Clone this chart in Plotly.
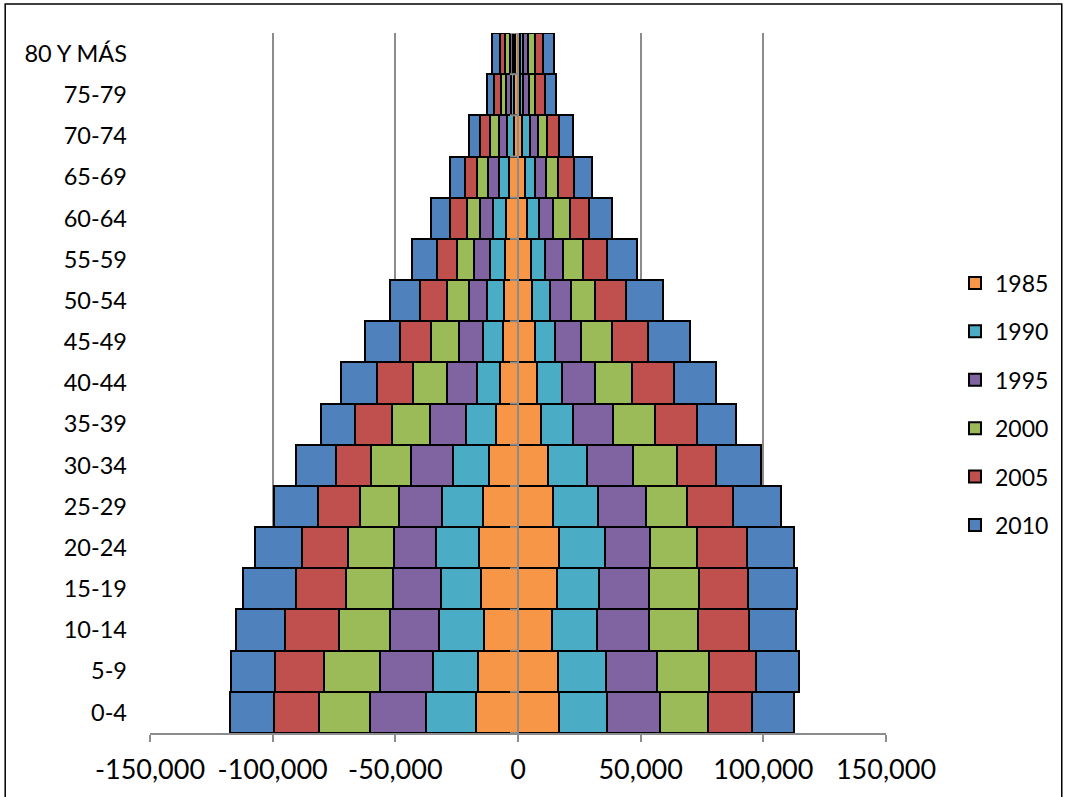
import plotly.graph_objects as go

categories = ["0-4", "5-9", "10-14", "15-19", "20-24", "25-29", "30-34", "35-39",
              "40-44", "45-49", "50-54", "55-59", "60-64", "65-69", "70-74", "75-79", "80 Y MÁS"]
years = ["1985", "1990", "1995", "2000", "2005", "2010"]
colors = ["#F79646", "#4BACC6", "#8064A2", "#9BBB59", "#C0504D", "#4F81BD"]

# left side (plotted as negative)
left_1985 = [17100, 16200, 14000, 15200, 15900, 14300, 11800, 8800, 7200, 6200, 5700, 5400, 4900, 3500, 1800, 1500, 1300]
left_1990 = [20200, 18600, 18200, 16300, 17400, 16600, 14800, 12200, 9500, 7900, 6800, 6000, 5200, 4200, 2700, 1500, 900]
left_1995 = [23100, 21400, 20100, 19400, 17200, 17800, 16900, 14700, 12400, 9800, 7500, 6400, 5300, 4600, 3300, 1700, 1100]
left_2000 = [20800, 22800, 20700, 19300, 18700, 15900, 16400, 15700, 13700, 11500, 9100, 6900, 5500, 4500, 3700, 2400, 2000]
left_2005 = [18200, 20100, 22100, 20400, 18900, 17100, 14400, 15200, 14700, 12900, 10800, 8300, 6700, 4900, 3900, 2700, 2000]
left_2010 = [18000, 18000, 20000, 21400, 19200, 17700, 16200, 13900, 14800, 14100, 12400, 10100, 7700, 6000, 4400, 3000, 3100]

# right side
right_1985 = [16700, 16300, 13700, 15900, 16700, 14300, 12200, 9300, 7900, 6900, 5700, 5100, 3500, 3000, 1800, 1000, 700]
right_1990 = [19400, 19400, 18600, 17100, 18700, 18500, 16000, 13200, 10100, 8300, 7500, 6100, 4900, 3800, 3100, 1000, 1200]
right_1995 = [21900, 20800, 20900, 20500, 18300, 19200, 18700, 16200, 13300, 10400, 8300, 7200, 5900, 4600, 3100, 2400, 2200]
right_2000 = [19600, 21300, 20100, 20300, 19400, 17000, 17900, 17200, 15100, 12800, 9800, 7900, 6900, 5100, 3800, 2700, 2800]
right_2005 = [17800, 19400, 20800, 20100, 20200, 18600, 16100, 17100, 17200, 14700, 12600, 9800, 7600, 6300, 5000, 3800, 3400]
right_2010 = [17100, 17500, 19400, 20000, 19300, 19400, 18100, 15900, 17100, 17100, 15100, 12500, 9700, 7500, 5600, 4400, 4400]

x_tickvals = [-150000, -100000, -50000, 0, 50000, 100000, 150000]
x_ticktext = ["-150,000", "-100,000", "-50,000", "0", "50,000", "100,000", "150,000"]

lefts = [left_1985, left_1990, left_1995, left_2000, left_2005, left_2010]
rights = [right_1985, right_1990, right_1995, right_2000, right_2005, right_2010]

FONT = "Lato"
GRID = "#8C8C8C"
W, H = 1065, 797
ML, MR, MT, MB = 150, 178, 33, 64
pw, ph = W - ML - MR, H - MT - MB

ypos = list(range(len(categories)))

fig = go.Figure()
for yr, col, lv, rv in zip(years, colors, lefts, rights):
    fig.add_trace(go.Bar(y=ypos, x=[-v for v in lv], orientation="h", name=yr,
                         legendgroup=yr, showlegend=False,
                         marker=dict(color=col, line=dict(color="black", width=2))))
    fig.add_trace(go.Bar(y=ypos, x=rv, orientation="h", name=yr,
                         legendgroup=yr, showlegend=True,
                         marker=dict(color=col, line=dict(color="black", width=2))))

shapes = []
# vertical category axis at zero, on top of bars
shapes.append(dict(type="line", xref="x", yref="y", x0=0, x1=0, y0=-0.5, y1=len(categories) - 0.5,
                   line=dict(color=GRID, width=2), layer="above"))
for k in range(len(categories) + 1):
    shapes.append(dict(type="line", xref="x", yref="y", xsizemode="pixel", xanchor=0,
                       x0=-8, x1=0, y0=k - 0.5, y1=k - 0.5,
                       line=dict(color=GRID, width=2), layer="above"))
# outer chart border
shapes.append(dict(type="rect", xref="paper", yref="paper",
                   x0=(5 - ML) / pw, x1=(1063 - ML) / pw,
                   y0=(H - MB - 805) / ph, y1=(H - MB - 4) / ph,
                   line=dict(color="black", width=1.5), fillcolor="rgba(0,0,0,0)", layer="below"))

fig.update_layout(
    width=W, height=H,
    margin=dict(l=ML, r=MR, t=MT, b=MB),
    paper_bgcolor="white", plot_bgcolor="white",
    barmode="relative", bargap=0,
    font=dict(family=FONT, color="black"),
    showlegend=True,
    legend=dict(x=(955 - ML) / pw, xanchor="left", y=(H - MB - 404) / ph, yanchor="middle",
                font=dict(family=FONT, size=23, color="black"),
                traceorder="grouped", tracegroupgap=15.5, itemwidth=30,
                bgcolor="rgba(0,0,0,0)"),
    xaxis=dict(range=[-150000, 150000], tickvals=x_tickvals, ticktext=x_ticktext,
               showgrid=True, gridcolor=GRID, gridwidth=1.5, zeroline=False,
               showline=True, linecolor=GRID, linewidth=2,
               ticks="outside", ticklen=7, tickwidth=2, tickcolor=GRID,
               ticklabelstandoff=5,
               tickfont=dict(family=FONT, size=27, color="black")),
    yaxis=dict(range=[-0.5, len(categories) - 0.5], tickvals=ypos, ticktext=categories,
               showgrid=False, zeroline=False, showline=False, ticks="",
               ticklabelstandoff=22,
               tickfont=dict(family=FONT, size=23.5, color="black")),
    shapes=shapes,
)

fig.write_html("out.html", config={"displayModeBar": False},
               post_script="document.body.style.margin='0';document.body.style.overflow='hidden';")
